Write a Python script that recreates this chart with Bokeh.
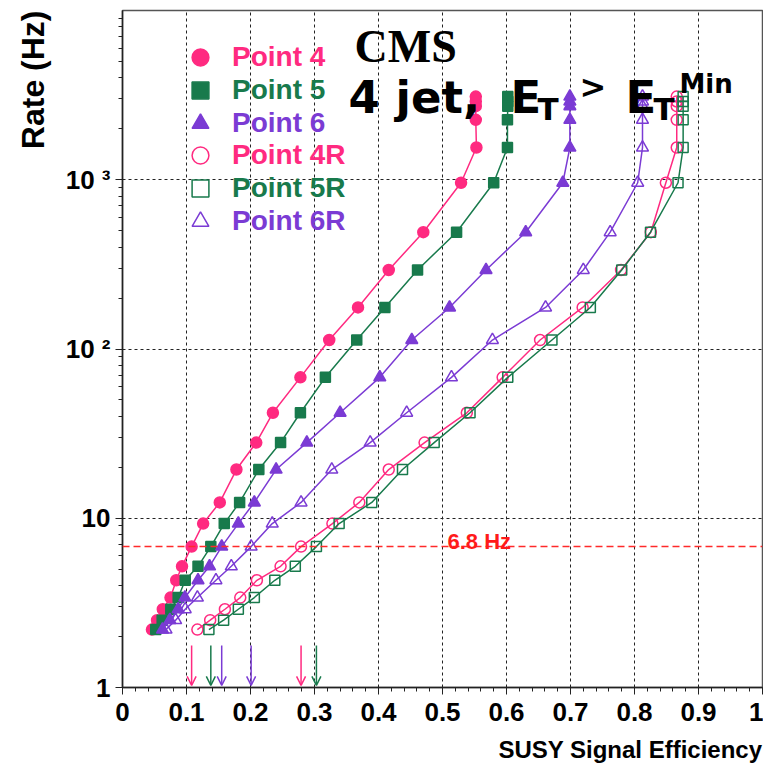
import math
import numpy as np
from bokeh.plotting import figure
from bokeh.models import (ColumnDataSource, Range1d, FixedTicker, Legend, LegendItem,
                          Label, Arrow, OpenHead, Span, CustomJSTickFormatter, Title)
from bokeh.embed import file_html
from bokeh.resources import INLINE

# ---------------- data ----------------
RATE_HZ = [2.2, 2.5, 2.9, 3.4, 4.3, 5.2, 6.8, 9.3, 12.4, 19.4, 28, 42, 68,
           113, 176, 293, 490, 960, 1550, 2260, 2720, 2900, 3100]
EFF_P4 = [0.046, 0.054, 0.063, 0.075, 0.084, 0.093, 0.108, 0.126, 0.152, 0.178, 0.209, 0.235,
          0.278, 0.323, 0.368, 0.416, 0.470, 0.529, 0.553, 0.552, 0.552, 0.552, 0.552]
EFF_P5 = [0.052, 0.062, 0.0755, 0.087, 0.098, 0.118, 0.138, 0.159, 0.183, 0.213, 0.247, 0.278,
          0.317, 0.366, 0.410, 0.461, 0.522, 0.580, 0.6015, 0.6015, 0.602, 0.602, 0.602]
EFF_P6 = [0.0625, 0.074, 0.087, 0.0975, 0.118, 0.136, 0.155, 0.181, 0.206, 0.240, 0.288, 0.340,
          0.402, 0.452, 0.511, 0.568, 0.630, 0.688, 0.699, 0.699, 0.699, 0.699, 0.699]
EFF_P4R = [0.117, 0.137, 0.160, 0.184, 0.210, 0.247, 0.279, 0.328, 0.370, 0.416, 0.472, 0.538,
           0.594, 0.6525, 0.719, 0.779, 0.8255, 0.849, 0.866, 0.866, 0.866, 0.866, 0.866]
EFF_P5R = [0.135, 0.158, 0.181, 0.206, 0.238, 0.270, 0.303, 0.3385, 0.3895, 0.4375, 0.487, 0.543,
           0.602, 0.671, 0.731, 0.780, 0.825, 0.868, 0.876, 0.876, 0.876, 0.876, 0.876]
EFF_P6R = [0.068, 0.083, 0.098, 0.117, 0.146, 0.170, 0.201, 0.234, 0.279, 0.327, 0.387, 0.444,
           0.514, 0.578, 0.661, 0.720, 0.762, 0.805, 0.8125, 0.8125, 0.8125, 0.8125, 0.8125]
SERIES_NAMES = ["Point 4", "Point 5", "Point 6", "Point 4R", "Point 5R", "Point 6R"]
RATE_LIMIT = 6.8
X_TICKS = [0.0, 0.1, 0.2, 0.3, 0.4, 0.5, 0.6, 0.7, 0.8, 0.9, 1.0]
Y_TICKS = [1, 10, 100, 1000]
Y_TICK_LABELS = ["1", "10", "10\u00a0\u00b2", "10\u00a0\u00b3"]
X_TITLE = "SUSY Signal Efficiency"
Y_TITLE = "Rate (Hz)"

# ---------------- styling ----------------
PINK, GREEN, PURPLE = "#ff2a80", "#187a4c", "#7b3bd4"
styles = [
    dict(marker="circle", color=PINK, fill=True, size=11),
    dict(marker="square", color=GREEN, fill=True, size=10),
    dict(marker="triangle", color=PURPLE, fill=True, size=12),
    dict(marker="circle", color=PINK, fill=False, size=11),
    dict(marker="square", color=GREEN, fill=False, size=10),
    dict(marker="triangle", color=PURPLE, fill=False, size=12),
]
series = [EFF_P4, EFF_P5, EFF_P6, EFF_P4R, EFF_P5R, EFF_P6R]

W, H = 763, 774
F_LEFT, F_TOP, F_RIGHT, F_BOTTOM = 122, 10, 762, 687

p = figure(width=W, height=H, output_backend="svg", toolbar_location=None,
           x_range=Range1d(0, 1), y_range=Range1d(1, 10000), y_axis_type="log",
           min_border_left=F_LEFT, min_border_right=W - F_RIGHT,
           min_border_top=F_TOP, min_border_bottom=H - F_BOTTOM)
p.background_fill_color = "white"
p.border_fill_color = "white"
p.outline_line_color = "#555555"
p.outline_line_width = 1.5

xt = FixedTicker(ticks=X_TICKS, minor_ticks=[round(i * 0.02, 2) for i in range(51)])
minor_y = [m * 10 ** d for d in range(4) for m in range(2, 10)]
yt = FixedTicker(ticks=Y_TICKS, minor_ticks=minor_y)
p.xaxis.ticker = xt
p.yaxis.ticker = yt
p.xgrid.ticker = xt
p.ygrid.ticker = yt
p.xaxis.formatter = CustomJSTickFormatter(code="return String(Math.round(tick*10)/10);")
p.yaxis.major_label_overrides = dict(zip(Y_TICKS, Y_TICK_LABELS))

for ax in (p.xaxis[0], p.yaxis[0]):
    ax.axis_line_color = "#222222"
    ax.axis_line_width = 1.5
    ax.major_tick_line_color = "#222222"
    ax.minor_tick_line_color = "#222222"
    ax.major_tick_in = 0
    ax.minor_tick_in = 0
    ax.major_tick_out = 7
    ax.minor_tick_out = 4
    ax.major_label_text_font = "Liberation Sans"
    ax.major_label_text_font_style = "bold"
    ax.major_label_text_font_size = "26px"
    ax.major_label_text_color = "black"
p.xaxis.major_label_standoff = 8
p.yaxis.major_label_standoff = 5

for g in (p.xgrid[0], p.ygrid[0]):
    g.grid_line_color = "#222222"
    g.grid_line_dash = "3 3"
    g.grid_line_width = 1

# axis titles as side-panel titles (aligned to the frame's end)
p.add_layout(Title(text=X_TITLE, align="right", text_font="Liberation Sans",
                   text_font_style="bold", text_font_size="24px", text_color="black",
                   standoff=21), "below")
p.add_layout(Title(text=Y_TITLE, align="right", text_font="Liberation Sans",
                   text_font_style="bold", text_font_size="32px", text_color="black",
                   standoff=24), "left")

# threshold line
p.add_layout(Span(location=RATE_LIMIT, dimension="width", line_color="#ff2a2a",
                  line_dash="7 4", line_width=1.5))

# curves
legend_renderers = []
for eff, st in zip(series, styles):
    src = ColumnDataSource(dict(x=eff, y=RATE_HZ))
    p.line("x", "y", source=src, line_color=st["color"], line_width=1.5)
    r = p.scatter("x", "y", source=src, marker=st["marker"], size=st["size"],
                  line_color=st["color"], line_width=1.5,
                  fill_color=st["color"] if st["fill"] else None)
    legend_renderers.append(r)

# arrows at the efficiency reached at the threshold rate
logr = np.log10(RATE_HZ)
for eff, st in zip(series, styles):
    xa = float(np.interp(math.log10(RATE_LIMIT), logr, eff))
    asrc = ColumnDataSource(dict(x=[xa], y0=[1.77], y1=[1.03]))
    p.add_layout(Arrow(end=OpenHead(size=9, line_color=st["color"], line_width=1.5),
                       x_start="x", y_start="y0", x_end="x", y_end="y1", source=asrc,
                       line_color=st["color"], line_width=1.5))

# legends (one per entry so each label gets its own colour)
for i, (name, r, st) in enumerate(zip(SERIES_NAMES, legend_renderers, styles)):
    cy = 57 + 32.8 * i
    lg = Legend(items=[LegendItem(label=name, renderers=[r])],
                location=(179 - F_LEFT, F_BOTTOM - (cy + 21)),
                glyph_width=42, glyph_height=42, label_standoff=11,
                padding=0, margin=0, spacing=0,
                border_line_color=None, background_fill_alpha=0,
                label_text_font="Liberation Sans", label_text_font_style="bold",
                label_text_font_size="28px", label_text_color=st["color"])
    p.add_layout(lg)


def lab(text, px, py, **kw):
    opts = dict(text_font="Liberation Sans", text_font_style="bold", text_color="black",
                text_baseline="alphabetic", text_align="left")
    opts.update(kw)
    p.add_layout(Label(x=px - F_LEFT, y=F_BOTTOM - py, x_units="screen", y_units="screen",
                       text=text, **opts))


# threshold label
lab(f"{RATE_LIMIT} Hz", 447, 541, text_color="#ff1a1a", text_font_size="22px")

# title block
lab("CMS", 354, 46, text_font="Liberation Serif", text_font_size="46px")
comic = "DejaVu Sans"
lab("4 jet,", 348, 97, text_font=comic, text_font_size="45px")
lab("E", 510, 97, text_font=comic, text_font_size="45px")
lab("T", 537, 108, text_font=comic, text_font_size="31px")
lab(">", 579, 86, text_font=comic, text_font_size="32px")
lab("E", 625, 97, text_font=comic, text_font_size="45px")
lab("T", 653, 108, text_font=comic, text_font_size="31px")
lab("Min", 679, 83, text_font=comic, text_font_size="26px")

open("out.html", "w").write(file_html(p, INLINE))
